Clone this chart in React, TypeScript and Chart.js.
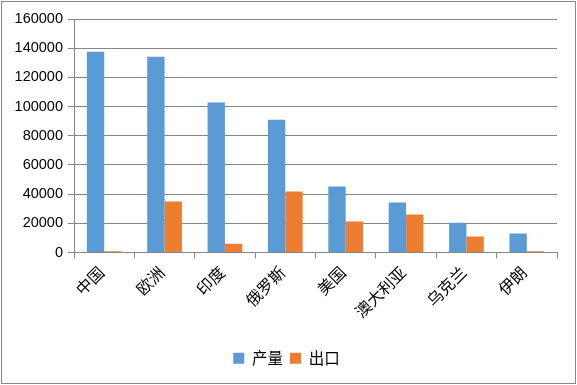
import React, { useEffect, useRef } from "react";
import { Chart, registerables } from "chart.js";

Chart.register(...registerables);

const categories = ["中国", "欧洲", "印度", "俄罗斯", "美国", "澳大利亚", "乌克兰", "伊朗"];
const production = [137500, 134200, 102800, 91000, 45200, 34300, 20300, 13000];
const exportsData = [800, 35000, 6000, 41800, 21200, 26000, 11000, 800];
const yTicks = [0, 20000, 40000, 60000, 80000, 100000, 120000, 140000, 160000];

const GRID = "#868686";
const NUM_FONT = "'Liberation Sans', Arial, sans-serif";
const CJK_FONT = "'Noto Sans CJK SC', 'Liberation Sans', sans-serif";

const shiftLegend = {
  id: "shiftLegend",
  afterLayout(chart: any) {
    if (chart.legend) {
      chart.legend.left += 8;
      chart.legend.right += 8;
    }
  },
};

export default function App() {
  const ref = useRef<HTMLCanvasElement | null>(null);

  useEffect(() => {
    if (!ref.current) return;
    const chart = new Chart(ref.current, {
      type: "bar",
      data: {
        labels: categories,
        datasets: [
          {
            label: "产量",
            data: production,
            backgroundColor: "#5B9BD5",
            borderWidth: 0,
            categoryPercentage: 0.575,
            barPercentage: 1,
          },
          {
            label: "出口",
            data: exportsData,
            backgroundColor: "#ED7D31",
            borderWidth: 0,
            categoryPercentage: 0.575,
            barPercentage: 1,
          },
        ],
      },
      plugins: [shiftLegend],
      options: {
        responsive: false,
        animation: false,
        devicePixelRatio: 1,
        layout: { padding: { left: 0, right: 20, top: 19, bottom: 9 } },
        plugins: {
          tooltip: { enabled: false },
          legend: {
            position: "bottom",
            labels: {
              boxWidth: 11,
              boxHeight: 11,
              padding: 7,
              color: "#000",
              font: { family: CJK_FONT, size: 15.5 },
            },
          },
        },
        scales: {
          x: {
            offset: true,
            grid: {
              display: true,
              drawOnChartArea: false,
              drawTicks: true,
              tickLength: 6,
              color: GRID,
              offset: true,
            },
            border: { display: true, color: GRID, width: 1 },
            ticks: {
              autoSkip: false,
              maxRotation: 45,
              minRotation: 45,
              padding: 4,
              labelOffset: -3,
              color: "#000",
              font: { family: CJK_FONT, size: 16 },
            },
            afterFit: (scale: any) => {
              scale.height = 91;
            },
          },
          y: {
            min: 0,
            max: 160000,
            afterBuildTicks: (scale: any) => {
              scale.ticks = yTicks.map((v) => ({ value: v }));
            },
            grid: {
              color: GRID,
              tickLength: 6,
              drawTicks: true,
            },
            border: { display: true, color: GRID, width: 1 },
            ticks: {
              padding: 5,
              color: "#000",
              font: { family: NUM_FONT, size: 14.5 },
              callback: (v: any) => String(v),
            },
            afterFit: (scale: any) => {
              scale.width = 74;
            },
          },
        },
      },
    });
    return () => chart.destroy();
  }, []);

  return (
    <div style={{ position: "absolute", left: 0, top: 0, width: 577, height: 385, background: "#fff" }}>
      <canvas ref={ref} width={577} height={385} style={{ display: "block" }} />
      <div
        style={{
          position: "absolute",
          left: 1,
          top: 1,
          width: 575,
          height: 383,
          boxSizing: "border-box",
          border: "1px solid #878787",
          pointerEvents: "none",
        }}
      />
    </div>
  );
}
